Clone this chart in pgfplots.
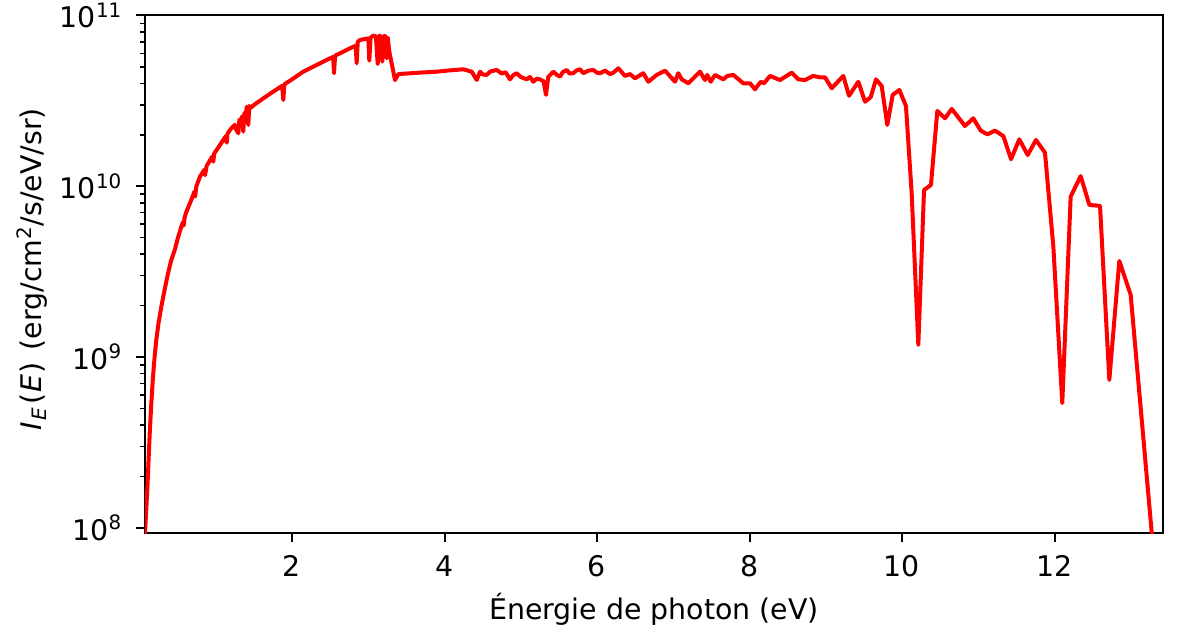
\documentclass[border=0pt]{standalone}
\usepackage{pgfplots}
\pgfplotsset{compat=1.18}
\usepackage{fontspec}
\setmainfont{DejaVu Sans}
\begin{document}
\fontsize{14.2}{17}\selectfont
\begin{tikzpicture}
\path[use as bounding box] (-72.5pt,-48.35pt) rectangle (517pt,266.65pt);
\begin{axis}[
  at={(0,0)}, anchor=south west,
  width=509pt, height=258.9pt, scale only axis,
  xmin=0.072, xmax=13.423,
  ymode=log, ymin=9.29e7, ymax=1e11,
  xtick={2,4,6,8,10,12}, xticklabels={2,4,6,8,10,12},
  ytick={1e8,1e9,1e10,1e11},
  yticklabels={10\textsuperscript{8},10\textsuperscript{9},10\textsuperscript{10},10\textsuperscript{11}},
  minor ytick={2e8,3e8,4e8,5e8,6e8,7e8,8e8,9e8,2e9,3e9,4e9,5e9,6e9,7e9,8e9,9e9,2e10,3e10,4e10,5e10,6e10,7e10,8e10,9e10},
  tick align=outside, tick pos=left,
  major tick length=4.4pt, minor tick length=2.5pt,
  tick style={black},
  every major tick/.append style={line width=1pt},
  every minor tick/.append style={line width=0.75pt},
  axis line style={line width=1pt},
  xlabel={Énergie de photon (eV)},
  ylabel={\textit{I}\kern0.5pt\textsubscript{\textit{E}}\kern1.5pt(\kern0.5pt\textit{E}\kern0.5pt)\kern1.5pt{} (erg/cm\textsuperscript{2}/s/eV/sr)},
  xlabel style={at={(axis description cs:0.5,0)}, anchor=base, yshift=-43.3pt},
  ylabel style={at={(axis description cs:-0.111,0.51)}, anchor=center},
  xticklabel style={yshift=-2pt},
  yticklabel style={xshift=-2pt},
]
\addplot[color=red, line width=2pt, line join=round] table {
0.07 8.91e7
0.102 1.667e8
0.134 3.581e8
0.155 5.37e8
0.177 7.674e8
0.198 1.0e9
0.220 1.259e9
0.25 1.585e9
0.286 1.972e9
0.33 2.483e9
0.374 3.097e9
0.415 3.673e9
0.462 4.236e9
0.505 5.012e9
0.548 5.794e9
0.57 6.17e9
0.58 5.89e9
0.59 6.50e9
0.61 7.0e9
0.679 8.318e9
0.72 9.31e9
0.73 8.71e9
0.745 9.98e9
0.793 1.138e10
0.85 1.250e10
0.86 1.161e10
0.88 1.315e10
0.955 1.493e10
0.968 1.393e10
0.98 1.556e10
1.06 1.758e10
1.135 1.972e10
1.144 1.799e10
1.155 2.037e10
1.187 2.138e10
1.25 2.291e10
1.27 2.138e10
1.296 2.042e10
1.31 2.455e10
1.33 2.239e10
1.345 2.570e10
1.361 2.089e10
1.375 2.692e10
1.39 2.399e10
1.406 2.924e10
1.427 2.286e10
1.44 2.951e10
1.46 2.884e10
1.50 2.992e10
1.624 3.273e10
1.75 3.573e10
1.87 3.873e10
1.886 3.199e10
1.90 3.954e10
2.0 4.227e10
2.148 4.688e10
2.3 5.070e10
2.498 5.610e10
2.54 5.728e10
2.551 4.592e10
2.565 5.821e10
2.65 6.067e10
2.761 6.427e10
2.835 6.653e10
2.848 5.248e10
2.862 6.998e10
2.892 7.194e10
3.001 7.345e10
3.014 5.433e10
3.030 7.413e10
3.066 7.621e10
3.100 7.551e10
3.124 5.200e10
3.140 7.586e10
3.154 7.621e10
3.185 5.370e10
3.200 7.551e10
3.220 7.586e10
3.242 5.610e10
3.256 7.413e10
3.276 6.138e10
3.351 4.188e10
3.395 4.539e10
3.50 4.571e10
3.70 4.634e10
3.898 4.688e10
4.05 4.764e10
4.247 4.842e10
4.357 4.688e10
4.422 4.188e10
4.466 4.688e10
4.50 4.519e10
4.553 4.487e10
4.60 4.699e10
4.685 4.797e10
4.75 4.571e10
4.80 4.656e10
4.859 4.227e10
4.90 4.467e10
4.947 4.592e10
5.00 4.365e10
5.078 4.227e10
5.12 4.365e10
5.165 4.093e10
5.21 4.266e10
5.252 4.227e10
5.30 4.121e10
5.331 3.428e10
5.36 4.365e10
5.427 4.688e10
5.48 4.467e10
5.515 4.385e10
5.55 4.656e10
5.603 4.797e10
5.64 4.571e10
5.689 4.592e10
5.73 4.764e10
5.777 4.842e10
5.820 4.592e10
5.886 4.753e10
5.951 4.797e10
6.000 4.624e10
6.039 4.592e10
6.105 4.753e10
6.170 4.539e10
6.214 4.624e10
6.280 4.909e10
6.367 4.426e10
6.433 4.539e10
6.498 4.285e10
6.607 4.592e10
6.673 4.093e10
6.783 4.487e10
6.892 4.753e10
7.023 4.093e10
7.066 4.592e10
7.111 4.227e10
7.197 4.009e10
7.351 4.688e10
7.416 4.188e10
7.447 4.487e10
7.491 4.093e10
7.548 4.487e10
7.657 4.227e10
7.709 4.426e10
7.788 4.487e10
7.919 4.009e10
8.007 4.009e10
8.072 3.698e10
8.147 4.093e10
8.190 4.009e10
8.269 4.426e10
8.400 4.188e10
8.553 4.624e10
8.640 4.227e10
8.728 4.188e10
8.837 4.426e10
8.924 4.345e10
8.990 4.345e10
9.078 3.750e10
9.230 4.426e10
9.305 3.388e10
9.427 4.093e10
9.515 3.126e10
9.589 3.319e10
9.659 4.227e10
9.734 3.864e10
9.807 2.286e10
9.878 3.428e10
9.965 3.664e10
10.052 2.951e10
10.127 9.099e9
10.214 1.178e9
10.289 9.506e9
10.380 1.019e10
10.463 2.761e10
10.564 2.500e10
10.652 2.838e10
10.826 2.254e10
10.935 2.500e10
11.032 2.118e10
11.119 2.014e10
11.220 2.118e10
11.329 1.968e10
11.430 1.439e10
11.538 1.884e10
11.648 1.524e10
11.757 1.866e10
11.875 1.574e10
11.985 4.426e9
12.102 5.370e8
12.212 8.690e9
12.343 1.148e10
12.457 7.780e9
12.597 7.674e9
12.719 7.345e8
12.850 3.656e9
12.999 2.312e9
13.275 9.376e7
13.32 5.62e7
};
\end{axis}
\end{tikzpicture}
\end{document}
